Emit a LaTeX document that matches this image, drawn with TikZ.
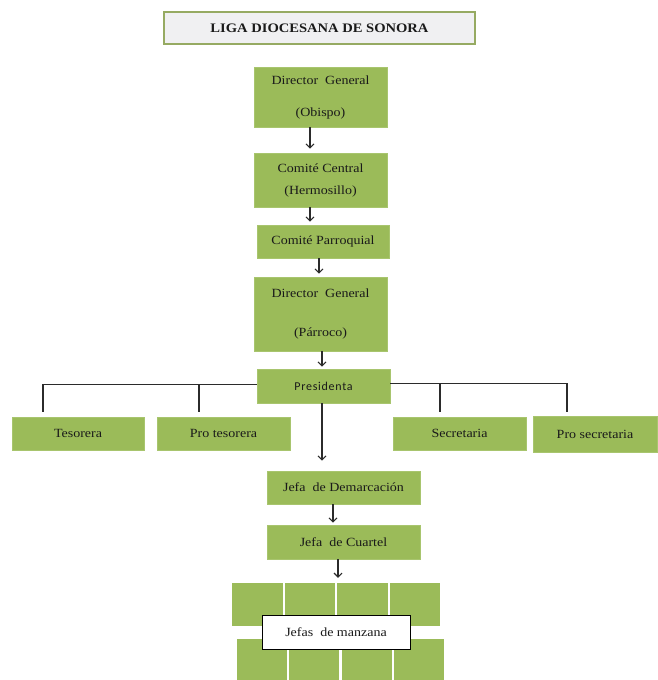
\documentclass[tikz,border=0pt]{standalone}
\usepackage{fontspec}
\setmainfont[FakeStretch=1.12]{Liberation Serif}
\newfontfamily\carlito[LetterSpace=6]{Carlito}
\usetikzlibrary{arrows.meta}
\definecolor{boxgreen}{HTML}{9BBB59}
\definecolor{edgegreen}{HTML}{A8C56E}
\definecolor{titleedge}{HTML}{96AA62}
\definecolor{titlefill}{HTML}{F0F0F2}
\definecolor{linecol}{HTML}{2B2B2B}
\definecolor{txt}{HTML}{1A1A1A}
\begin{document}
\begin{tikzpicture}[x=1pt,y=-1pt,
  gbox/.style={fill=boxgreen, draw=edgegreen, line width=0.6pt, inner sep=0pt, align=center,
    font=\fontsize{12.5}{14}\selectfont, text=txt},
  cell/.style={fill=boxgreen, draw=none, inner sep=0pt, minimum height=#1},
  arr/.style={draw=linecol, line width=1.1pt, -{Straight Barb[length=4pt,width=8pt]}},
  conn/.style={draw=linecol, line width=1.2pt},
]
\useasboundingbox (0,0) rectangle (657,680);
\fill[white] (0,0) rectangle (657,680);

% title
\node[draw=titleedge, fill=titlefill, line width=2pt, minimum width=311pt, minimum height=32pt,
  inner sep=0pt, text=txt] (title) at (319.5,28)
  {\fontsize{13}{15}\selectfont\bfseries LIGA DIOCESANA DE SONORA};

% main chain
\node[gbox, minimum width=133pt, minimum height=60pt] (b1) at (320.5,97)
  {Director\ \ General\\[18pt](Obispo)};
\node[gbox, minimum width=133pt, minimum height=54pt] (b2) at (320.5,180)
  {Comité Central\\[8pt](Hermosillo)};
\node[gbox, minimum width=132pt, minimum height=33pt] (b3) at (323,241.5)
  {Comité Parroquial};
\node[gbox, minimum width=133pt, minimum height=74pt] (b4) at (320.5,314)
  {Director\ \ General\\[25pt](Párroco)};
\node[gbox, minimum width=133pt, minimum height=34pt, font=\carlito\fontsize{12}{14}\selectfont] (pres) at (323.5,386)
  {Presidenta};

% side boxes
\node[gbox, minimum width=132pt, minimum height=33pt] (tes) at (78,433.5) {Tesorera};
\node[gbox, minimum width=133pt, minimum height=33pt] (protes) at (223.5,433.5) {Pro tesorera};
\node[gbox, minimum width=133pt, minimum height=33pt] (sec) at (459.5,433.5) {Secretaria};
\node[gbox, minimum width=124pt, minimum height=36pt] (prosec) at (595,434) {Pro secretaria};

% lower chain
\node[gbox, minimum width=153pt, minimum height=33pt] (dem) at (343.5,487.5) {Jefa\ \ de Demarcación};
\node[gbox, minimum width=153pt, minimum height=34pt] (cua) at (343.5,542) {Jefa\ \ de Cuartel};

% grid of cells
\foreach \i in {0,1,2,3} {
  \node[cell=43pt, minimum width=50.5pt] (t\i) at ({257.25+52.5*\i},604.5) {};
  \node[cell=43pt, minimum width=50pt] (u\i) at ({262+52.25*\i},660.5) {};
}
\node[fill=white, draw=black, line width=0.9pt, inner sep=0pt, minimum width=148pt, minimum height=34pt,
  font=\fontsize{12.5}{14}\selectfont, text=txt] (manz) at (336,632) {Jefas\ \ de manzana};

% arrows
\draw[arr, shorten >=4pt] ([xshift=-10.5pt]b1.south) -- ([xshift=-10.5pt]b1.south |- b2.north);
\draw[arr, shorten >=3pt] ([xshift=-10.5pt]b2.south) -- ([xshift=-10.5pt]b2.south |- b3.north);
\draw[arr, shorten >=3pt] ([xshift=-4pt]b3.south) -- ([xshift=-4pt]b3.south |- b4.north);
\draw[arr, shorten >=2pt] ([xshift=1.5pt]b4.south) -- ([xshift=1.5pt]b4.south |- pres.north);
\draw[arr, shorten >=10pt] ([xshift=-1.5pt]pres.south) -- ([xshift=-1.5pt]pres.south |- dem.north);
\draw[arr, shorten >=2pt] ([xshift=-10.5pt]dem.south) -- ([xshift=-10.5pt]dem.south |- cua.north);
\draw[arr, shorten >=5pt] ([xshift=-5.5pt]cua.south) -- ([xshift=-5.5pt]cua.south |- t1.north);

% tree connectors
\coordinate (lL) at ([yshift=1.5pt]pres.west);
\coordinate (lR) at ([yshift=2.5pt]pres.east);
\coordinate (tesdrop) at (43,412);
\coordinate (protesdrop) at (199,412);
\coordinate (secdrop) at (440,412);
\coordinate (prosecdrop) at (567,412);
\draw[conn] (lL) -| (tesdrop);
\draw[conn] (protesdrop |- lL) -- (protesdrop);
\draw[conn] (lR) -| (prosecdrop);
\draw[conn] (secdrop |- lR) -- (secdrop);
\end{tikzpicture}
\end{document}
